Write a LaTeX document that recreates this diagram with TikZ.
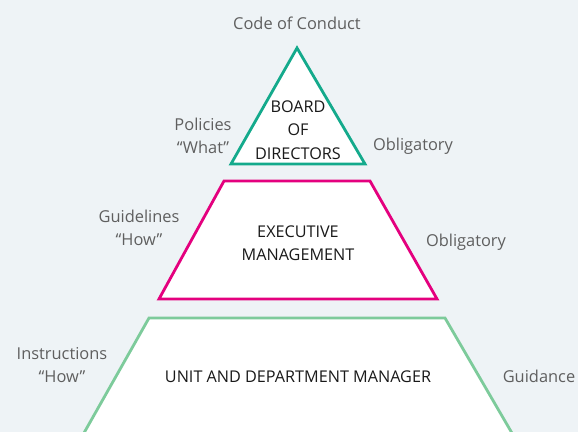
\documentclass[tikz,border=0pt]{standalone}
\usepackage{fontspec}
\setmainfont{Open Sans}
\usepackage{xcolor}
\usepackage{tikz}
\usetikzlibrary{positioning,calc}

\definecolor{bgcol}{RGB}{238,243,246}
\definecolor{boardcol}{RGB}{20,170,140}
\definecolor{execcol}{RGB}{228,0,126}
\definecolor{unitcol}{RGB}{125,203,155}
\definecolor{labelcol}{RGB}{95,95,95}
\definecolor{levelcol}{RGB}{25,25,25}

\begin{document}
\begin{tikzpicture}[
      x=0.5pt, y=-0.5pt,
      layer/.style={line width=1.4pt, fill=white, line join=miter},
      label/.style={font=\fontsize{8.2}{11.5}\selectfont, text=labelcol, align=center, inner sep=0pt},
      level/.style={font=\fontsize{8.1}{11.3}\selectfont, text=levelcol, align=center, inner sep=0pt}
    ]
      % Background
      \fill[bgcol] (0,0) rectangle (578,432);
      \useasboundingbox (0,0) rectangle (578,432);

      % Pyramid layers
      \draw[layer, draw=boardcol] (297,48) -- (365,164) -- (231,164) -- cycle;
      \draw[layer, draw=execcol] (224,181) -- (370,181) -- (437,299) -- (159,299) -- cycle;
      \draw[layer, draw=unitcol] (80,440) -- (149,318) -- (445,318) -- (516,440);

      % Level names
      \node[level] (board) at (298,130) {BOARD\\[0.5pt]OF\\[0.5pt]DIRECTORS};
      \node[level] (exec) at (298,243) {EXECUTIVE\\MANAGEMENT};
      \node[level] (unit) at (298,377) {UNIT AND DEPARTMENT MANAGER};

      % Side labels
      \node[label] (code) at (297,23) {Code of Conduct};
      \node[label] (policies) at (203,136) {Policies\\“What”};
      \node[label] (oblig1) at (413,146) {Obligatory};
      \node[label] (guide) at (139,228) {Guidelines\\“How”};
      \node[label] (oblig2) at (466,242) {Obligatory};
      \node[label] (instr) at (62,365) {Instructions\\“How”};
      \node[label] (guidance) at (539,376) {Guidance};
    \end{tikzpicture}
\end{document}
